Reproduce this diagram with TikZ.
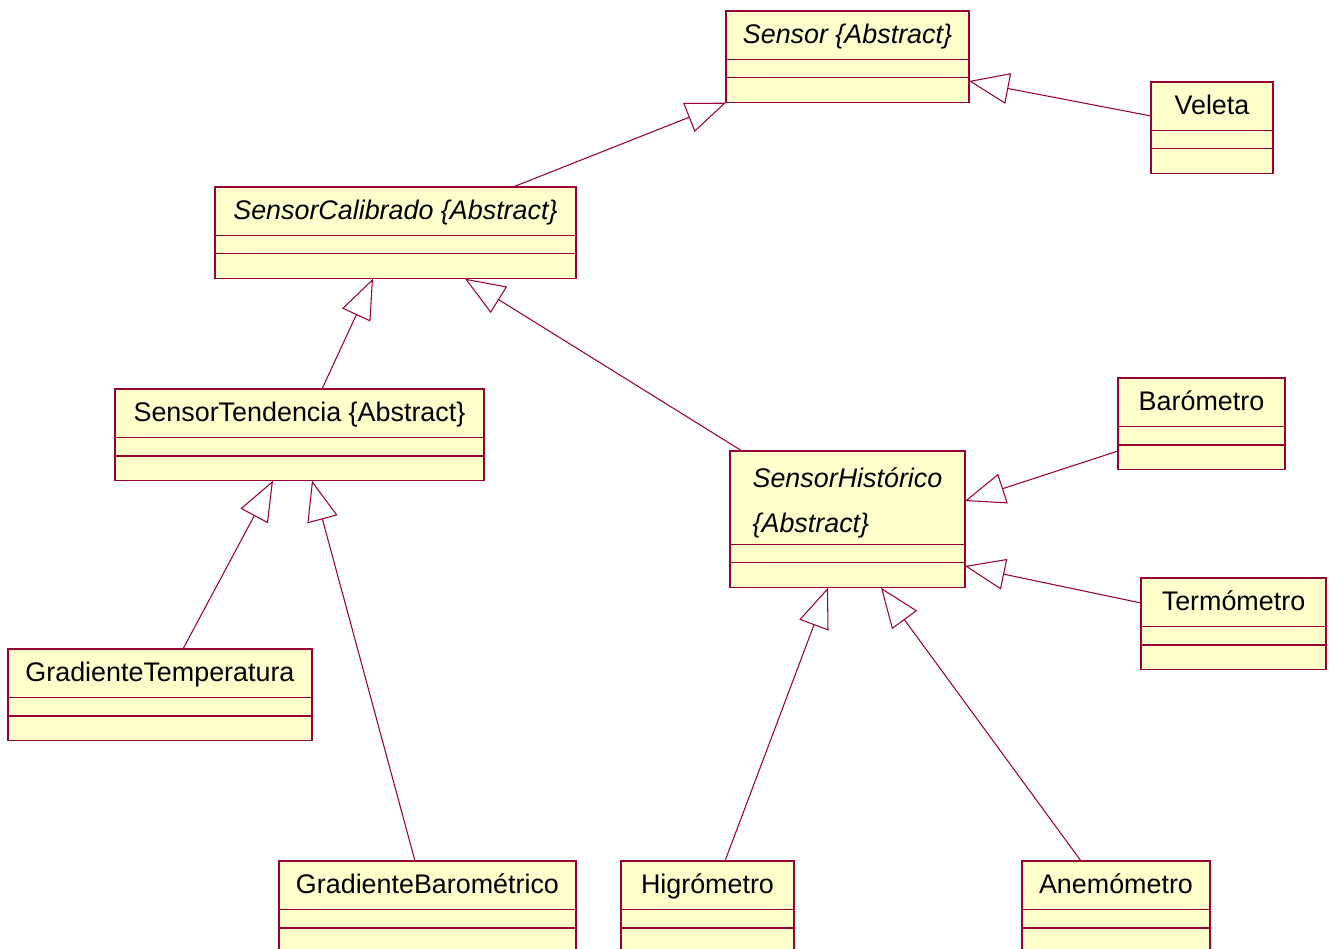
\documentclass[tikz,border=0pt]{standalone}
\usepackage{fontspec}
\setmainfont{Liberation Sans}
\usetikzlibrary{arrows.meta,calc,shapes.multipart}
\definecolor{umlred}{HTML}{990033}
\definecolor{umlfill}{HTML}{FFFFCC}
\newcommand{\namestrut}{\rule[-0.30cm]{0pt}{0.94cm}}
\newcommand{\lowstrut}{\rule{0pt}{0.47cm}}
\tikzset{
  umlclass/.style={rectangle split, rectangle split parts=3, draw=umlred, fill=umlfill,
    line width=0.8pt, anchor=north west, inner xsep=4pt, inner ysep=0pt, outer sep=0pt,
    rectangle split empty part height=0.34cm, rectangle split empty part depth=0pt,
    font=\fontsize{15.3}{18}\selectfont},
  inherit/.style={draw=umlred, line width=0.6pt, -{Triangle[open,length=0.8cm,width=0.62cm]}}
}

\begin{document}
\begin{tikzpicture}[x=0.02cm,y=-0.02cm]
  \clip (0,0) rectangle (1329,949);

  % Abstract classes
  \node[umlclass,minimum width=4.86cm] (sensor) at (726,11)
    {\namestrut\itshape Sensor \{Abstract\}\nodepart{two}\nodepart{three}\lowstrut};
  \node[umlclass,minimum width=7.22cm] (cal) at (215,187)
    {\namestrut\itshape SensorCalibrado \{Abstract\}\nodepart{two}\nodepart{three}\lowstrut};
  \node[umlclass,minimum width=7.38cm] (tend) at (115,389)
    {\namestrut SensorTendencia \{Abstract\}\nodepart{two}\nodepart{three}\lowstrut};
  \node[umlclass,minimum width=4.70cm] (hist) at (730,451)
    {\rule[-0.22cm]{0pt}{1.84cm}\itshape\begin{tabular}[b]{@{}l@{}}SensorHistórico\\[7.6pt]\{Abstract\}\end{tabular}\nodepart{two}\nodepart{three}\lowstrut};

  % Concrete sensors
  \node[umlclass,minimum width=2.44cm] (veleta) at (1151,82)
    {\namestrut Veleta\nodepart{two}\nodepart{three}\lowstrut};
  \node[umlclass,minimum width=3.34cm] (baro) at (1118,378)
    {\namestrut Barómetro\nodepart{two}\nodepart{three}\lowstrut};
  \node[umlclass,minimum width=3.70cm] (termo) at (1141,578)
    {\namestrut Termómetro\nodepart{two}\nodepart{three}\lowstrut};
  \node[umlclass,minimum width=6.08cm] (gradt) at (8,649)
    {\namestrut GradienteTemperatura\nodepart{two}\nodepart{three}\lowstrut};
  \node[umlclass,minimum width=5.94cm] (gradb) at (279,861)
    {\namestrut GradienteBarométrico\nodepart{two}\nodepart{three}\lowstrut};
  \node[umlclass,minimum width=3.46cm] (higro) at (621,861)
    {\namestrut Higrómetro\nodepart{two}\nodepart{three}\lowstrut};
  \node[umlclass,minimum width=3.76cm] (anemo) at (1022,861)
    {\namestrut Anemómetro\nodepart{two}\nodepart{three}\lowstrut};

  % Generalisations
  \draw[inherit] ($(cal.north west)+(298,0)$) -- (sensor.south west);
  \draw[inherit] ($(veleta.north west)+(0,34)$) -- ($(sensor.north east)+(0,70)$);
  \draw[inherit] ($(tend.north west)+(207,0)$) -- ($(cal.south west)+(158,0)$);
  \draw[inherit] ($(hist.north west)+(12,0)$) -- ($(cal.south west)+(250,0)$);
  \draw[inherit] ($(gradt.north west)+(175,0)$) -- ($(tend.south west)+(158,0)$);
  \draw[inherit] ($(gradb.north west)+(136,0)$) -- ($(tend.south west)+(197,0)$);
  \draw[inherit] ($(baro.north west)+(0,73)$) -- ($(hist.north east)+(0,50)$);
  \draw[inherit] ($(termo.north west)+(0,25)$) -- ($(hist.north east)+(0,115)$);
  \draw[inherit] ($(higro.north west)+(104,0)$) -- ($(hist.south west)+(98,0)$);
  \draw[inherit] ($(anemo.north west)+(59,0)$) -- ($(hist.south west)+(151,0)$);
\end{tikzpicture}
\end{document}
